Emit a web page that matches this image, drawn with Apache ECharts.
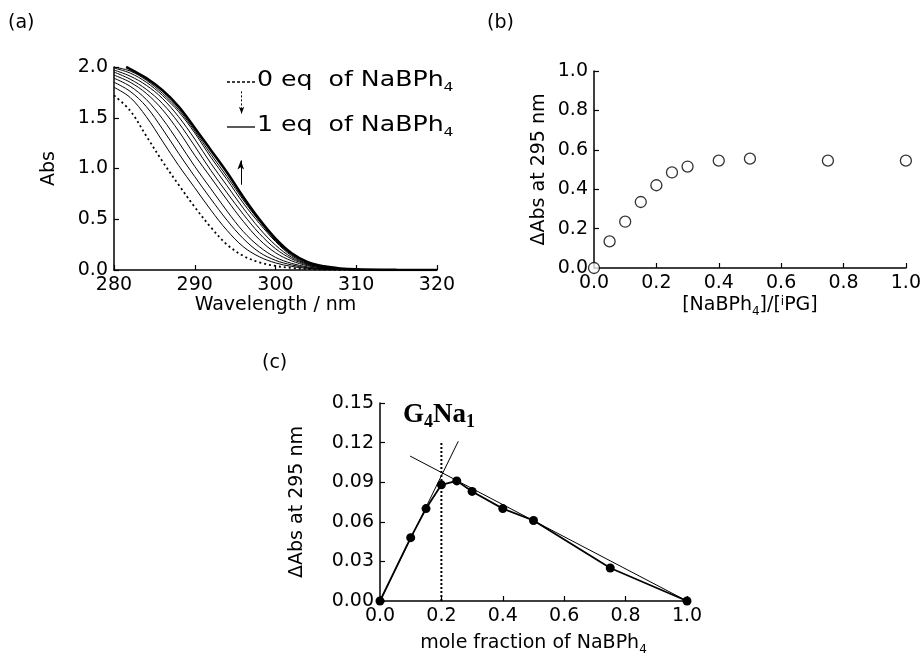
<!DOCTYPE html>
<html><head><meta charset="utf-8">
<script src="https://cdn.jsdelivr.net/npm/echarts@6/dist/echarts.min.js"></script>
<style>html,body{margin:0;padding:0;background:#fff}#c{width:924px;height:657px}</style>
</head><body><div id="c"></div>
<script>
// ---- Panel (a): absorption spectra ----
const wl = [280,282,284,286,288,290,292,294,296,298,300,302,304,306,308,310,315,320];
const abs0eq   = [1.72,1.57,1.32,1.07,0.84,0.62,0.42,0.25,0.14,0.075,0.04,0.02,0.01,0.004,0.002,0,0,0];
const absStep1 = [1.80,1.70,1.51,1.27,1.03,0.81,0.59,0.39,0.23,0.13,0.07,0.035,0.016,0.007,0.003,0.001,0,0];
const absStep2 = [1.85,1.76,1.61,1.39,1.15,0.92,0.70,0.49,0.31,0.175,0.095,0.05,0.022,0.01,0.004,0.001,0,0];
const absStep3 = [1.89,1.81,1.68,1.49,1.26,1.02,0.80,0.58,0.38,0.23,0.125,0.065,0.03,0.013,0.005,0.002,0,0];
const absStep4 = [1.92,1.85,1.74,1.58,1.37,1.13,0.91,0.69,0.48,0.30,0.17,0.09,0.042,0.018,0.007,0.002,0,0];
const absStep5 = [1.95,1.88,1.78,1.64,1.45,1.22,0.98,0.76,0.55,0.36,0.21,0.11,0.05,0.022,0.009,0.003,0,0];
const absStep6 = [1.97,1.91,1.82,1.69,1.51,1.29,1.05,0.83,0.61,0.41,0.245,0.125,0.057,0.025,0.01,0.004,0,0];
const absStep7 = [1.99,1.94,1.85,1.72,1.56,1.35,1.11,0.89,0.66,0.46,0.28,0.14,0.062,0.028,0.011,0.004,0,0];
const absStep8 = [2.00,1.96,1.87,1.74,1.58,1.37,1.14,0.92,0.69,0.48,0.29,0.15,0.07,0.032,0.013,0.005,0,0];
const wl1eq  = [281.5,282,284,286,288,290,292,294,296,298,300,302,304,306,308,310,315,320];
const abs1eq = [2.00,1.98,1.89,1.77,1.61,1.40,1.18,0.96,0.72,0.50,0.31,0.165,0.078,0.036,0.015,0.006,0.001,0];

// ---- Panel (b): titration ----
const ratioB = [0,0.05,0.1,0.15,0.2,0.25,0.3,0.4,0.5,0.75,1.0];
const dAbsB  = [0,0.135,0.235,0.335,0.42,0.485,0.515,0.545,0.555,0.545,0.545];

// ---- Panel (c): Job plot ----
const moleC = [0,0.1,0.15,0.2,0.25,0.3,0.4,0.5,0.75,1.0];
const dAbsC = [0,0.048,0.070,0.088,0.091,0.083,0.070,0.061,0.025,0.0];
const fitRise = [[0,0],[0.255,0.121]];
const fitFall = [[0.098,0.1098],[1.0,0.0]];
const stoichLine = [[0.2,0],[0.2,0.12]];

const FONT = 'DejaVu Sans';
const zip = (xs, ys) => xs.map((x, i) => [x, ys[i]]);

function axisBase(extra) {
  return Object.assign({
    type: 'value',
    axisLine: { show: true, lineStyle: { color: '#000', width: 1.5 } },
    axisTick: { show: true, inside: true, length: 5, lineStyle: { color: '#000', width: 1.2 } },
    splitLine: { show: false },
    axisLabel: { color: '#000', fontFamily: FONT, fontSize: 19, margin: 6 },
    nameLocation: 'middle',
    nameTextStyle: { color: '#000', fontFamily: FONT, fontSize: 19 }
  }, extra);
}

const thinCurves = [absStep1, absStep2, absStep3, absStep4, absStep5, absStep6, absStep7, absStep8];

const series = [];
series.push({
  type: 'line', xAxisIndex: 0, yAxisIndex: 0, data: zip(wl, abs0eq),
  smooth: 0.35, showSymbol: false, lineStyle: { color: '#000', width: 1.8, type: [2, 3] },
  markLine: {
    silent: true, animation: false, label: { show: false },
    data: [
      [{ coord: [295.7, 0.84], symbol: 'none' }, { coord: [295.7, 1.08], symbol: 'arrow', symbolSize: [5, 9] }]
    ],
    lineStyle: { color: '#000', width: 1, type: 'solid' }
  }
});
thinCurves.forEach(arr => series.push({
  type: 'line', xAxisIndex: 0, yAxisIndex: 0, data: zip(wl, arr),
  smooth: 0.35, showSymbol: false, lineStyle: { color: '#000', width: 1 }
}));
series.push({
  type: 'line', xAxisIndex: 0, yAxisIndex: 0, data: zip(wl1eq, abs1eq),
  smooth: 0.35, showSymbol: false, lineStyle: { color: '#000', width: 2.6 },
  markLine: {
    silent: true, animation: false, label: { show: false },
    data: [
      [{ coord: [295.8, 1.76], symbol: 'none' }, { coord: [295.8, 1.54], symbol: 'arrow', symbolSize: [4, 7] }]
    ],
    lineStyle: { color: '#000', width: 1, type: [2, 2] }
  }
});
// (b)
series.push({
  type: 'scatter', xAxisIndex: 1, yAxisIndex: 1, data: zip(ratioB, dAbsB), clip: false,
  symbol: 'circle', symbolSize: 11,
  itemStyle: { color: '#fff', borderColor: '#000', borderWidth: 1.3 }
});
// (c)
series.push({
  type: 'line', xAxisIndex: 2, yAxisIndex: 2, data: fitRise, showSymbol: false,
  lineStyle: { color: '#000', width: 1 }
});
series.push({
  type: 'line', xAxisIndex: 2, yAxisIndex: 2, data: fitFall, showSymbol: false,
  lineStyle: { color: '#000', width: 1 }
});
series.push({
  type: 'line', xAxisIndex: 2, yAxisIndex: 2, data: stoichLine, showSymbol: false,
  lineStyle: { color: '#000', width: 2, type: [2, 2] }
});
series.push({
  type: 'line', xAxisIndex: 2, yAxisIndex: 2, data: zip(moleC, dAbsC), clip: false,
  symbol: 'circle', symbolSize: 9, showSymbol: true,
  itemStyle: { color: '#000' }, lineStyle: { color: '#000', width: 1.8 }
});

function richSet(size, subSize, drop) {
  return {
    m: { fontFamily: FONT, fontSize: size, verticalAlign: 'top', lineHeight: size + 3, color: '#000', fill: '#000' },
    s: { fontFamily: FONT, fontSize: subSize, verticalAlign: 'bottom', lineHeight: subSize, padding: [drop, 0, 0, 0], color: '#000', fill: '#000' },
    p: { fontFamily: FONT, fontSize: subSize, verticalAlign: 'top', lineHeight: subSize, color: '#000', fill: '#000' }
  };
}
const axisRich = richSet(19, 12, 12);

const option = {
  animation: false,
  backgroundColor: '#fff',
  grid: [
    { left: 114, top: 67, width: 323, height: 203 },
    { left: 594, top: 71, width: 314, height: 197 },
    { left: 380, top: 403, width: 307, height: 201 }
  ],
  xAxis: [
    axisBase({ gridIndex: 0, min: 280, max: 320, interval: 10, name: 'Wavelength / nm', nameGap: 17 }),
    axisBase({ gridIndex: 1, min: 0, max: 1, interval: 0.2, name: '{m|[NaBPh}{s|4}{m|]/[}{p|i}{m|PG]}', nameGap: 15,
      axisLabel: { color: '#000', fontFamily: FONT, fontSize: 19, margin: 6, formatter: v => v.toFixed(1) },
      nameTextStyle: { color: '#000', fontFamily: FONT, fontSize: 19, rich: axisRich } }),
    axisBase({ gridIndex: 2, min: 0, max: 1, interval: 0.2, name: '{m|mole fraction of NaBPh}{s|4}', nameGap: 33,
      axisLabel: { color: '#000', fontFamily: FONT, fontSize: 19, margin: 6, formatter: v => v.toFixed(1) },
      nameTextStyle: { color: '#000', fontFamily: FONT, fontSize: 19, rich: axisRich } })
  ],
  yAxis: [
    axisBase({ gridIndex: 0, min: 0, max: 2, interval: 0.5, name: 'Abs', nameGap: 55,
      axisLabel: { color: '#000', fontFamily: FONT, fontSize: 19, margin: 6, formatter: v => v.toFixed(1) } }),
    axisBase({ gridIndex: 1, min: 0, max: 1, interval: 0.2, name: '\u0394Abs at 295 nm', nameGap: 45,
      axisLabel: { color: '#000', fontFamily: FONT, fontSize: 19, margin: 6, formatter: v => v.toFixed(1) } }),
    axisBase({ gridIndex: 2, min: 0, max: 0.15, interval: 0.03, name: '\u0394Abs at 295 nm', nameGap: 73,
      axisLabel: { color: '#000', fontFamily: FONT, fontSize: 19, margin: 6, formatter: v => v.toFixed(2) } })
  ],
  series: series,
  graphic: [
    { type: 'text', left: 8, top: 14, style: { text: '(a)', font: '19px "DejaVu Sans"', fill: '#000' } },
    { type: 'text', left: 487, top: 14, style: { text: '(b)', font: '19px "DejaVu Sans"', fill: '#000' } },
    { type: 'text', left: 262, top: 354, style: { text: '(c)', font: '19px "DejaVu Sans"', fill: '#000' } },
    { type: 'line', shape: { x1: 227, y1: 82, x2: 255, y2: 82 }, style: { stroke: '#000', lineWidth: 1.3, lineDash: [3, 2] } },
    { type: 'line', shape: { x1: 227, y1: 127, x2: 255, y2: 127 }, style: { stroke: '#000', lineWidth: 1.3 } },
    { type: 'text', x: 257, y: 70, scaleX: 1.2, style: {
        text: '{m|0 eq  of NaBPh}{s|4}', fill: '#000', rich: richSet(21, 13, 13) } },
    { type: 'text', x: 257, y: 115, scaleX: 1.2, style: {
        text: '{m|1 eq  of NaBPh}{s|4}', fill: '#000', rich: richSet(21, 13, 13) } },
    { type: 'text', x: 403, y: 402, style: {
        text: '{m|G}{s|4}{m|Na}{s|1}', fill: '#000',
        rich: {
          m: { fontFamily: 'Liberation Serif', fontSize: 27, fontWeight: 'bold', verticalAlign: 'top', lineHeight: 29, fill: '#000' },
          s: { fontFamily: 'Liberation Serif', fontSize: 18, fontWeight: 'bold', verticalAlign: 'bottom', lineHeight: 18, padding: [15, 0, 0, 0], fill: '#000' }
        } } }
  ]
};

const chart = echarts.init(document.getElementById('c'), null, { renderer: 'canvas' });
chart.setOption(option);
</script>
</body></html>
